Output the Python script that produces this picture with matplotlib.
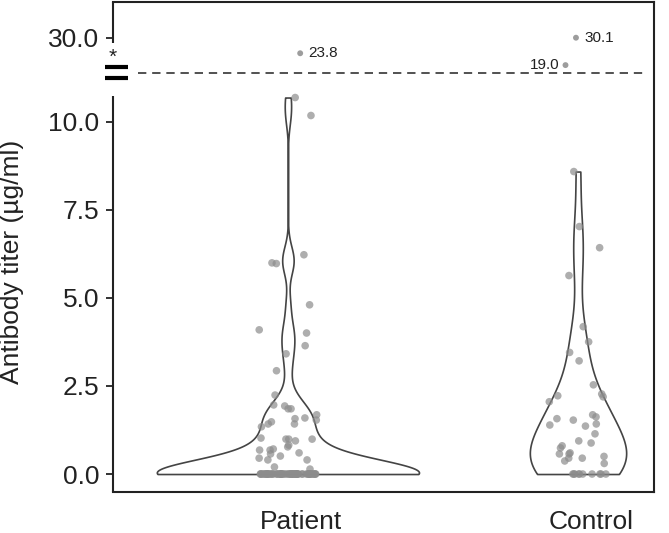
import numpy as np
import matplotlib.pyplot as plt
from matplotlib.transforms import ScaledTranslation

plt.rcParams['font.family'] = ['Liberation Sans', 'DejaVu Sans']

# values (µg/ml); the zeros overlap heavily
groups = ['Patient', 'Control']
patient = [10.68, 10.17, 6.22, 5.99, 5.97, 4.80, 4.09, 4.00, 3.64, 3.41, 2.93,
           2.24, 1.96, 1.93, 1.85, 1.85, 1.68, 1.59, 1.57, 1.53, 1.48, 1.42,
           1.42, 1.34, 1.02, 0.99, 0.99, 0.99, 0.94, 0.82, 0.77, 0.71, 0.68,
           0.68, 0.60, 0.57, 0.51, 0.45, 0.40, 0.40, 0.20, 0.14] + [0.0] * 60
control = [8.58, 7.02, 6.42, 5.63, 4.18, 3.75, 3.45, 3.21, 2.53, 2.27, 2.22,
           2.19, 2.05, 1.68, 1.62, 1.57, 1.53, 1.42, 1.39, 1.36, 1.14, 0.94,
           0.88, 0.80, 0.74, 0.60, 0.57, 0.57, 0.50, 0.45, 0.45, 0.37,
           0.30] + [0.0] * 10
patient_out = [23.8]
control_out = [19.0, 30.1]

ytick_vals = [0.0, 2.5, 5.0, 7.5, 10.0]
top_tick = 30.0

grey = '#8c8c8c'
dark = '#222222'


def squash(v):
    # values above the break are compressed into the band over the dashed line
    return 11.6 + (np.asarray(v, dtype=float) - 19.0) * 0.07


fig = plt.figure(figsize=(6.69, 5.33), dpi=100)
ax = fig.add_axes([113 / 669, 41 / 533, 541 / 669, 490 / 533])

# violins: gaussian kde (scott bw), cut at data range
bw_adjust = [0.5, 0.8]
half_width = [0.452, 0.166]

rng = np.random.default_rng(7)
for i, vals in enumerate([patient, control]):
    vals = np.array(vals)
    h = bw_adjust[i] * vals.std(ddof=1) * len(vals) ** (-0.2)
    grid = np.linspace(0, vals.max(), 500)
    dens = np.exp(-0.5 * ((grid[:, None] - vals[None, :]) / h) ** 2).sum(axis=1)
    w = dens / dens.max() * half_width[i]
    ax.fill_betweenx(grid, i - w, i + w, facecolor='white',
                     edgecolor='#444444', linewidth=1.2, zorder=2)
    ax.scatter(i + rng.uniform(-0.1, 0.1, len(vals)), vals, s=30, color=grey,
               alpha=0.7, edgecolors='none', zorder=3)

# outliers above the break
for i, outs in enumerate([patient_out, control_out]):
    xs = i + rng.uniform(-0.05, 0.05, len(outs))
    ax.scatter(xs, squash(outs), s=18, color=grey, alpha=0.85,
               edgecolors='none', zorder=3)
    for x, v in zip(xs, outs):
        if v < 20:
            ax.annotate(f'{v:.1f}', (x, squash(v)), xytext=(-4, 0),
                        textcoords='offset points', ha='right', va='center',
                        fontsize=11, color=dark)
        else:
            ax.annotate(f'{v:.1f}', (x, squash(v)), xytext=(6, 0),
                        textcoords='offset points', ha='left', va='center',
                        fontsize=11, color=dark)

# dashed break line
ax.plot([0.046, 0.98], [11.39, 11.39], transform=ax.get_yaxis_transform(),
        color='#333333', linewidth=1.2, dashes=(5, 3.5), zorder=1)

ax.set_xlim(-0.603, 1.262)
ax.set_ylim(-0.51, 13.39)

ax.set_yticks(ytick_vals + [float(squash(top_tick))])
ax.set_yticklabels([f'{v:.1f}' for v in ytick_vals] + [f'{top_tick:.1f}'])
ax.set_xticks([0, 1])
ax.set_xticklabels(groups)
ax.tick_params(axis='y', labelsize=19, length=5, width=1.3, pad=5,
               colors=dark)
ax.tick_params(axis='x', labelsize=19, length=0, pad=13, colors=dark)
shift = ScaledTranslation(0.13, 0, fig.dpi_scale_trans)
for lab in ax.get_xticklabels():
    lab.set_transform(lab.get_transform() + shift)

for side in ['top', 'right', 'bottom']:
    ax.spines[side].set_linewidth(1.5)
    ax.spines[side].set_color(dark)
ax.spines['left'].set_visible(False)

# broken left spine
yx = ax.get_yaxis_transform()
ax.plot([0, 0], [-0.51, 10.71], transform=yx, color=dark, lw=1.5,
        clip_on=False, solid_capstyle='butt')
ax.plot([0, 0], [12.24, 13.39], transform=yx, color=dark, lw=1.5,
        clip_on=False, solid_capstyle='butt')
for yb in [11.56, 11.22]:
    ax.plot([-0.0148, 0.0277], [yb, yb], transform=yx, color='black', lw=3,
            clip_on=False, solid_capstyle='butt')
ax.text(0, 11.83, '*', transform=yx, ha='center', va='center', fontsize=15,
        color=dark)

fig.text(12 / 669, 1 - 262 / 533, 'Antibody titer (µg/ml)', rotation=90,
         ha='center', va='center', fontsize=19, color=dark)

fig.savefig('out.png', dpi=100)
